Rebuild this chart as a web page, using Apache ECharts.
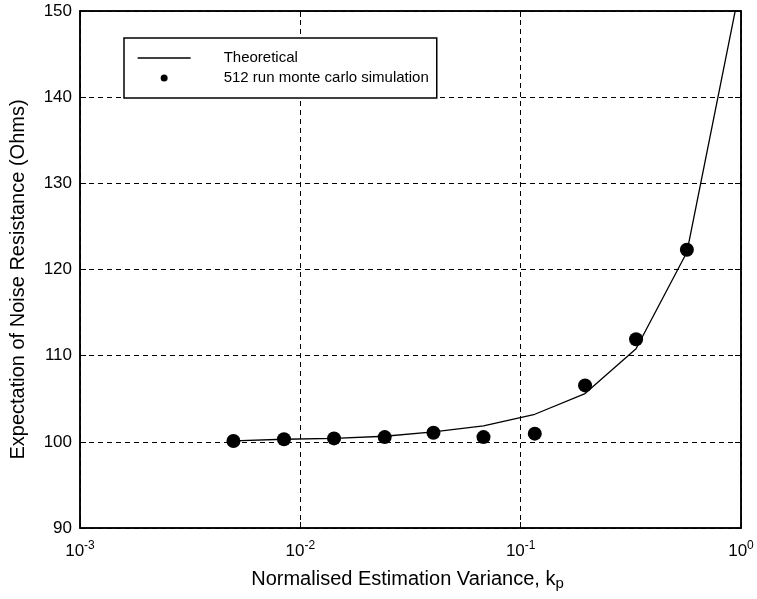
<!DOCTYPE html>
<html>
<head>
<meta charset="utf-8">
<script src="https://cdn.jsdelivr.net/npm/echarts@6/dist/echarts.min.js"></script>
<style>
  html, body { margin: 0; padding: 0; background: #fff; }
  #chart { width: 757px; height: 599px; }
</style>
</head>
<body>
<div id="chart"></div>
<script>
// Normalised estimation variance k_p of the simulation runs
const kSim = [0.00497, 0.00843, 0.01422, 0.02415, 0.0402, 0.0678, 0.1159, 0.196, 0.334, 0.568];
// Mean noise resistance from the 512 run monte carlo simulation (Ohms)
const rSim = [100.1, 100.3, 100.4, 100.55, 101.05, 100.55, 100.95, 106.55, 111.9, 122.3];
// Theoretical curve, sampled at the same variances plus one beyond the top edge
const kTheory = [0.00497, 0.00843, 0.01422, 0.02415, 0.0402, 0.0678, 0.1159, 0.196, 0.334, 0.568, 0.96];
const rTheory = [100.1, 100.3, 100.4, 100.65, 101.15, 101.85, 103.2, 105.6, 110.8, 122.0, 151.1];
// Axis ticks
const xTickExponents = [-3, -2, -1, 0];
const yTicks = [90, 100, 110, 120, 130, 140, 150];

const seriesNames = ['Theoretical', '512 run monte carlo simulation'];

const FONT = '"Liberation Sans", Arial, Helvetica, sans-serif';
const theoryData = kTheory.map((k, i) => [k, rTheory[i]]);
const simData = kSim.map((k, i) => [k, rSim[i]]);

const xMin = Math.pow(10, xTickExponents[0]);
const xMax = Math.pow(10, xTickExponents[xTickExponents.length - 1]);
const yMin = yTicks[0];
const yMax = yTicks[yTicks.length - 1];
const yStep = yTicks[1] - yTicks[0];

const gridDash = { color: '#000', width: 1, type: [5, 4] };
const frameLine = { show: true, lineStyle: { color: '#000', width: 1.5 } };
const innerTick = { show: true, inside: true, length: 6, lineStyle: { color: '#000' } };

const chart = echarts.init(document.getElementById('chart'), null, { renderer: 'canvas' });
chart.setOption({
  animation: false,
  backgroundColor: '#fff',
  textStyle: { fontFamily: FONT, color: '#000' },
  grid: {
    left: 80, right: 16, top: 11, bottom: 71,
    show: true, borderColor: '#000', borderWidth: 1.5, backgroundColor: 'transparent'
  },
  legend: {
    left: 124, top: 38,
    orient: 'vertical',
    backgroundColor: '#fff',
    borderColor: '#000', borderWidth: 1.5, borderRadius: 0,
    padding: [10, 8, 10, 13],
    itemWidth: 53, itemHeight: 7, itemGap: 0,
    textStyle: { fontFamily: FONT, fontSize: 15, color: '#000', lineHeight: 20, padding: [0, 0, 0, 28] },
    data: [
      { name: seriesNames[0], itemStyle: { opacity: 0 }, lineStyle: { color: '#000', width: 1.3 } },
      { name: seriesNames[1], itemStyle: { color: '#000', opacity: 1 } }
    ]
  },
  xAxis: [{
    type: 'log', logBase: 10, min: xMin, max: xMax,
    position: 'bottom',
    name: 'Normalised Estimation Variance, k{sub|p}',
    nameLocation: 'middle', nameGap: 39,
    nameTextStyle: {
      fontFamily: FONT, fontSize: 20, color: '#000', padding: [0, 6, 0, 0],
      rich: { sub: { fontFamily: FONT, fontSize: 15, color: '#000', padding: [9, 0, 0, 0] } }
    },
    axisLine: frameLine,
    axisTick: innerTick,
    axisLabel: {
      margin: 12, color: '#000', fontFamily: FONT, fontSize: 17,
      formatter: v => '10{sup|' + Math.round(Math.log10(v)) + '}',
      rich: { sup: { fontFamily: FONT, fontSize: 12, color: '#000', padding: [0, 0, 10, 0] } }
    },
    splitLine: { show: true, lineStyle: gridDash }
  }, {
    type: 'log', logBase: 10, min: xMin, max: xMax, position: 'top',
    axisLine: frameLine, axisTick: innerTick,
    axisLabel: { show: false }, splitLine: { show: false }
  }],
  yAxis: [{
    type: 'value', min: yMin, max: yMax, interval: yStep,
    position: 'left',
    name: 'Expectation of Noise Resistance (Ohms)',
    nameLocation: 'middle', nameGap: 52,
    nameTextStyle: { fontFamily: FONT, fontSize: 20, color: '#000', padding: [0, 20, 0, 0] },
    axisLine: frameLine,
    axisTick: innerTick,
    axisLabel: { margin: 8, color: '#000', fontFamily: FONT, fontSize: 17 },
    splitLine: { show: true, lineStyle: gridDash }
  }, {
    type: 'value', min: yMin, max: yMax, interval: yStep, position: 'right',
    axisLine: frameLine, axisTick: innerTick,
    axisLabel: { show: false }, splitLine: { show: false }
  }],
  series: [{
    name: seriesNames[0],
    type: 'line',
    data: theoryData,
    symbol: 'none',
    clip: true,
    lineStyle: { color: '#000', width: 1.3 },
    itemStyle: { color: '#000' },
    z: 3
  }, {
    name: seriesNames[1],
    type: 'scatter',
    data: simData,
    symbol: 'circle',
    symbolSize: 14,
    itemStyle: { color: '#000', opacity: 1 },
    z: 4
  }]
});
</script>
</body>
</html>
